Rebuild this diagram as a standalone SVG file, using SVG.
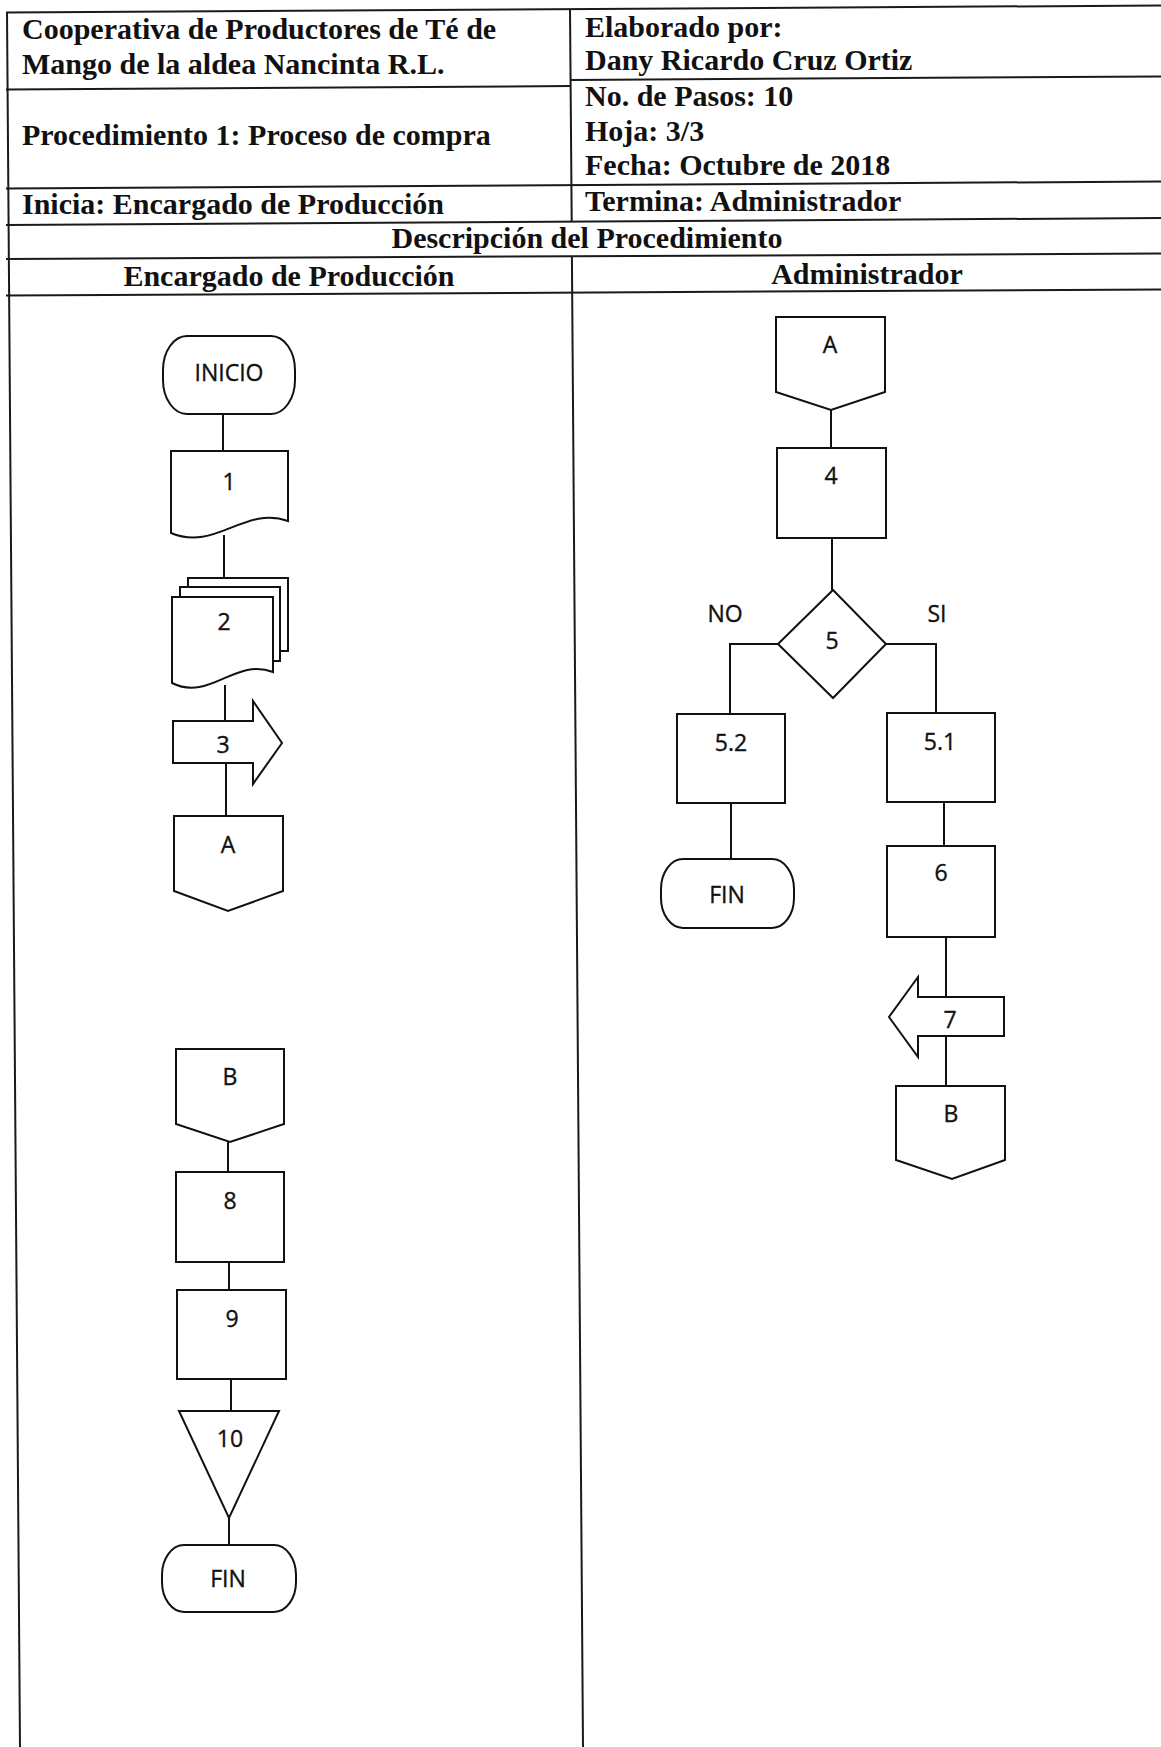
<svg xmlns="http://www.w3.org/2000/svg" width="1161" height="1747" viewBox="0 0 1161 1747">
<style>
.tl{stroke:#1a1a1a;stroke-width:2;fill:none}
.hd{font-family:"Liberation Serif","Times New Roman",serif;font-weight:bold;font-size:30px;fill:#111}
.sh{fill:#fff;stroke:#111;stroke-width:2;stroke-linejoin:miter}
.cn{stroke:#111;stroke-width:2;fill:none}
.lb{font-family:"Open Sans","Noto Sans","Liberation Sans",sans-serif;font-size:23px;fill:#111;stroke:#111;stroke-width:0.35;text-anchor:middle}
</style>
<rect width="1161" height="1747" fill="#fff"/>
<g id="table">
<line class="tl" x1="6" y1="12.5" x2="1161" y2="5.5"/>
<line class="tl" x1="6" y1="89.5" x2="571" y2="86"/>
<line class="tl" x1="571" y1="80" x2="1161" y2="76.5"/>
<line class="tl" x1="6" y1="188.5" x2="1161" y2="181.5"/>
<line class="tl" x1="6" y1="225" x2="1161" y2="218"/>
<line class="tl" x1="6" y1="259" x2="1161" y2="253.5"/>
<line class="tl" x1="6" y1="295.5" x2="1161" y2="289.5"/>
<line class="tl" x1="7" y1="12" x2="20" y2="1747"/>
<line class="tl" x1="570" y1="9" x2="571.7" y2="221"/>
<line class="tl" x1="571.9" y1="256" x2="583" y2="1747"/>
</g>
<g id="header-text">
<text class="hd" x="22" y="39">Cooperativa de Productores de Té de</text>
<text class="hd" x="22" y="74">Mango de la aldea Nancinta R.L.</text>
<text class="hd" x="22" y="145">Procedimiento 1: Proceso de compra</text>
<text class="hd" x="22" y="214">Inicia: Encargado de Producción</text>
<text class="hd" x="585" y="37">Elaborado por:</text>
<text class="hd" x="585" y="70">Dany Ricardo Cruz Ortiz</text>
<text class="hd" x="585" y="106">No. de Pasos: 10</text>
<text class="hd" x="585" y="141">Hoja: 3/3</text>
<text class="hd" x="585" y="175">Fecha: Octubre de 2018</text>
<text class="hd" x="585" y="211">Termina: Administrador</text>
<text class="hd" x="587" y="248" text-anchor="middle">Descripción del Procedimiento</text>
<text class="hd" x="289" y="286" text-anchor="middle">Encargado de Producción</text>
<text class="hd" x="867" y="284" text-anchor="middle">Administrador</text>
</g>
<g id="connectors">
<line class="cn" x1="223" y1="414" x2="223" y2="451"/>
<line class="cn" x1="224" y1="535" x2="224" y2="597"/>
<line class="cn" x1="225" y1="685" x2="225" y2="721"/>
<line class="cn" x1="226" y1="763" x2="226" y2="816"/>
<line class="cn" x1="831" y1="410" x2="831" y2="448"/>
<line class="cn" x1="832" y1="538" x2="832" y2="590"/>
<path class="cn" d="M778,644 H730 V714"/>
<path class="cn" d="M886,644 H936 V713"/>
<line class="cn" x1="731" y1="803" x2="731" y2="859"/>
<line class="cn" x1="944" y1="802" x2="944" y2="846"/>
<line class="cn" x1="946" y1="937" x2="946" y2="997"/>
<line class="cn" x1="946" y1="1036" x2="946" y2="1086"/>
<line class="cn" x1="228" y1="1142" x2="228" y2="1172"/>
<line class="cn" x1="229" y1="1262" x2="229" y2="1290"/>
<line class="cn" x1="231" y1="1379" x2="231" y2="1411"/>
<line class="cn" x1="229" y1="1518" x2="229" y2="1545"/>
</g>
<g id="inicio"><rect class="sh" x="163" y="336" width="132" height="78" rx="24" ry="34"/><text class="lb" x="229" y="381">INICIO</text></g>
<g id="n1"><path class="sh" d="M171,451 H288 V521 C245,505 215,552 171,533 Z"/><text class="lb" x="229" y="490">1</text></g>
<g id="n2">
<rect class="sh" x="188" y="578" width="100" height="73"/>
<rect class="sh" x="180" y="587" width="100" height="74"/>
<path class="sh" d="M172,597 H273 V672 C235,657 210,702 172,683 Z"/>
<text class="lb" x="224" y="630">2</text></g>
<g id="n3"><path class="sh" d="M173,721 H253 V701 L282,743 L253,784 V763 H173 Z"/><text class="lb" x="223" y="753">3</text></g>
<g id="conA1"><path class="sh" d="M174,816 H283 V891 L228,911 L174,891 Z"/><text class="lb" x="228" y="853">A</text></g>
<g id="conA2"><path class="sh" d="M776,317 H885 V392 L831,410 L776,392 Z"/><text class="lb" x="830" y="353">A</text></g>
<g id="n4"><rect class="sh" x="777" y="448" width="109" height="90"/><text class="lb" x="831" y="484">4</text></g>
<g id="n5"><path class="sh" d="M833,590 L886,644 L833,698 L778,644 Z"/><text class="lb" x="832" y="649">5</text></g>
<g id="labels"><text class="lb" x="725" y="622">NO</text><text class="lb" x="937" y="622">SI</text></g>
<g id="n52"><rect class="sh" x="677" y="714" width="108" height="89"/><text class="lb" x="731" y="751">5.2</text></g>
<g id="n51"><rect class="sh" x="887" y="713" width="108" height="89"/><text class="lb" x="940" y="750">5.1</text></g>
<g id="fin1"><rect class="sh" x="661" y="859" width="133" height="69" rx="22" ry="30"/><text class="lb" x="727" y="903">FIN</text></g>
<g id="n6"><rect class="sh" x="887" y="846" width="108" height="91"/><text class="lb" x="941" y="881">6</text></g>
<g id="n7"><path class="sh" d="M1004,997 H918 V977 L889,1017 L918,1057 V1036 H1004 Z"/><text class="lb" x="950" y="1028">7</text></g>
<g id="conB1"><path class="sh" d="M896,1086 H1005 V1160 L952,1179 L896,1160 Z"/><text class="lb" x="951" y="1122">B</text></g>
<g id="conB2"><path class="sh" d="M176,1049 H284 V1124 L230,1142 L176,1124 Z"/><text class="lb" x="230" y="1085">B</text></g>
<g id="n8"><rect class="sh" x="176" y="1172" width="108" height="90"/><text class="lb" x="230" y="1209">8</text></g>
<g id="n9"><rect class="sh" x="177" y="1290" width="109" height="89"/><text class="lb" x="232" y="1327">9</text></g>
<g id="n10"><path class="sh" d="M179,1411 H279 L229,1518 Z"/><text class="lb" x="230" y="1447">10</text></g>
<g id="fin2"><rect class="sh" x="162" y="1545" width="134" height="67" rx="22" ry="30"/><text class="lb" x="228" y="1587">FIN</text></g>
</svg>
